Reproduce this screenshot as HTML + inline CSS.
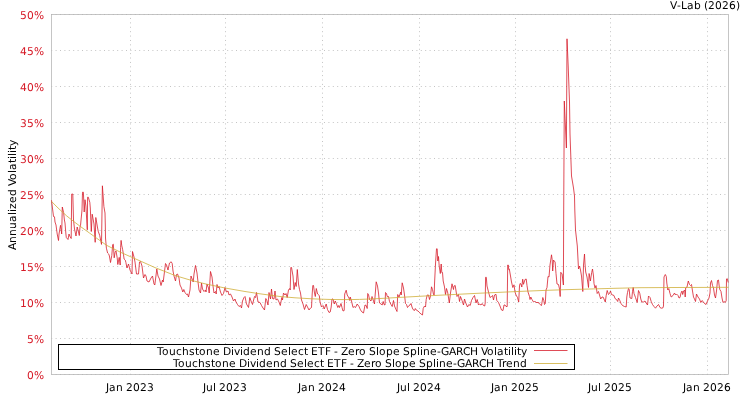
<!DOCTYPE html>
<html lang="en"><head><meta charset="utf-8"><title>V-Lab Volatility</title>
<style>
html,body{margin:0;padding:0;background:#fff;}
body{width:750px;height:400px;overflow:hidden;}
svg{display:block;will-change:transform;}
text{font-family:"DejaVu Sans","Liberation Sans",sans-serif;font-size:10.667px;fill:#000;font-kerning:none;font-feature-settings:'kern' 0,'liga' 0;text-rendering:geometricPrecision;}
.yt{fill:#d61926;}
.grid{stroke:#c4c4c4;stroke-width:1;stroke-dasharray:1 3.4;fill:none;}
</style></head><body>
<svg width="750" height="400" viewBox="0 0 750 400">
<rect x="0" y="0" width="750" height="400" fill="#fff"/>

<g class="grid">
<path d="M51.5 14.5H728.5" stroke-dashoffset="0.3"/>
<path d="M51.5 50.5H728.5" stroke-dashoffset="0.3"/>
<path d="M51.5 86.5H728.5" stroke-dashoffset="0.3"/>
<path d="M51.5 122.5H728.5" stroke-dashoffset="0.3"/>
<path d="M51.5 158.5H728.5" stroke-dashoffset="0.3"/>
<path d="M51.5 194.5H728.5" stroke-dashoffset="0.3"/>
<path d="M51.5 230.5H728.5" stroke-dashoffset="0.3"/>
<path d="M51.5 266.5H728.5" stroke-dashoffset="0.3"/>
<path d="M51.5 302.5H728.5" stroke-dashoffset="0.3"/>
<path d="M51.5 338.5H728.5" stroke-dashoffset="0.3"/>
<path d="M51.5 374.5H728.5" stroke-dashoffset="0.3"/>
<path d="M130.5 374.5V14.5" stroke-dasharray="1 3.3925" stroke-dashoffset="0.29"/>
<path d="M225.5 374.5V14.5" stroke-dasharray="1 3.3925" stroke-dashoffset="0.29"/>
<path d="M322.5 374.5V14.5" stroke-dasharray="1 3.3925" stroke-dashoffset="0.29"/>
<path d="M419.5 374.5V14.5" stroke-dasharray="1 3.3925" stroke-dashoffset="0.29"/>
<path d="M515.5 374.5V14.5" stroke-dasharray="1 3.3925" stroke-dashoffset="0.29"/>
<path d="M610.5 374.5V14.5" stroke-dasharray="1 3.3925" stroke-dashoffset="0.29"/>
<path d="M707.5 374.5V14.5" stroke-dasharray="1 3.3925" stroke-dashoffset="0.29"/>
</g>
<rect x="51.5" y="14.5" width="677" height="360" fill="none" stroke="#b3b3b3" stroke-width="0.76"/>
<polyline fill="none" stroke="#d61926" stroke-width="0.78" stroke-linejoin="round" points="51.5,200.3 52.7,210 53.5,216.5 54.5,216.8 55,222 56,225 57.2,234 58.5,240.5 59,234 60.5,225.3 61.3,231 61.7,234 62.3,207 63.6,212.5 64.4,220 65,223 65.9,234 66.3,237.5 68,239.5 69,234 70,236.5 71.2,238.5 71.7,194 72.8,194 73.5,220 74.5,229 76,236 77.2,227 78.5,232 79.3,235.5 80,227 80.5,225.6 82,210 82.5,192.2 83.4,192.2 84.2,212 85,199.7 85.9,206 87.3,229.8 87.6,197.2 88.3,197.2 89.8,202.3 90.3,208 91.3,231.5 92.2,214.2 94,224 95.2,242.3 95.8,217.5 97.6,228 98.2,231.2 99.7,235.4 101.5,244.4 102.4,185.8 103.9,206.5 105,213 105.3,225 105.5,238 106.4,248.2 107.6,253 108.8,254.2 109.4,256 110.5,262.5 111.8,255.4 112.7,244.6 113.3,244.2 114.2,257.8 115.1,252.4 116,250.9 117.2,257.8 117.8,264.5 119.2,257.4 120.2,265 120.6,247.6 121.1,240.4 121.7,245.2 122.6,249.4 123.5,254.8 124.1,259 125.3,260.2 125.9,262.5 127,268 128.5,264 130,270 132,274 132.5,251.5 134,257 135,262 136.5,274 138.5,274 139.5,262 140.5,261.5 142,266 143.5,278 145,274.5 146,276 147,281 149,282 151,278 152.5,276 154,284 154.8,285 156.8,269 158,276 159.5,279 161,285.5 162.5,280 163.2,282 165.5,263.5 166.5,265 168,270 169.5,263 171.2,261.8 172.2,263.5 173,271 174,276 175.5,281 176.5,274.5 177.5,274 179,278 180,285 181.5,288 182.8,292 183.8,289.5 185,292.5 186.5,294.5 187.5,294 188.5,297 190,290 191,276 192.5,280 193.2,282 194,274 195.5,265.5 197,273 198,282 199,290 200.5,293 201.5,283 202.5,289 204,291.5 205.5,290 206,292 207,284 208.5,288 209.2,293 210.5,271.5 212,277 213,286 214,293 215.5,291.5 216.2,294 217,284.5 218,288 219,286.5 220.5,292 222,295.5 223.5,293.5 225,287.5 226.5,292 228,291 229,295 230.5,294 232,297 233.5,301 235,299 236,302 237.5,304.5 239,306.5 240.5,305.5 241.5,308 242.5,301 244,297.5 245,296.5 246.5,304 248.5,307.5 249.8,297.5 251,301 252.5,304.5 254.5,296.5 255.5,297.5 256.5,292.5 258,302 260,302.5 261.5,305.5 263,308 264.5,310 265.8,298.5 266.8,300.5 268,305 269,292.5 270.5,299 271.5,289 272.5,298.5 274,299 275,291 276,300 277.5,299 279,302 280.3,305.5 281.8,297.5 282.5,300 283.5,293 285,295 286,293.5 287.2,297.5 288.5,290 289.7,288.5 290.2,290 290.8,267.5 291.5,267.5 293,276 294,289.5 295.2,282.5 296.2,286.5 297.3,269.5 298.5,284 299.5,289.5 300.5,293 301.5,300 303,304 304.5,309.5 306.2,304.5 307.5,307 309,310 310.5,308 311.5,307.5 312.2,294 312.8,285.5 313.5,285.5 314.5,293 315.3,296.5 316.3,288.5 317.6,294 319.3,295.5 320,302 321.5,307 323,305.5 324.2,309 326.2,304 327.5,309.5 329,312.5 330.2,312 331.2,307 332,299 333,299 334.3,304 335.3,301 336.5,304 337.8,307.5 338.7,305.5 339.5,307.5 341,303.5 342,307.5 343,311 344.2,310.5 344.7,294 346.2,290.2 347.2,295 349,298 349.8,300.5 350.2,297 351.5,301 353,307.5 354.2,306.5 355.5,307.5 357.2,304 359,306.5 360.5,310 362,312 363.5,313 365,305 366.2,305.5 367.2,308.5 367.7,293.5 368.5,294.5 369.5,299.5 371,301 372,296.5 373.2,300 374.5,304 375,297 376.2,281.8 377.5,286 378.5,293 379.5,303 381,304 382.2,305 383.2,301.5 384,304.5 385,305 385.5,292.5 386.5,293.5 387.2,296.5 388.5,296.5 389.5,301.5 391,304.5 392.2,306.5 393.5,300.5 394.5,306 396,309.5 397,311.5 397.7,294.5 399,297 400.8,292 401.2,295 402.2,282.8 403.5,288 404.5,295 405.5,303.5 406.5,304.5 407.5,307.5 409,305.5 410,305 411,303.5 412,307 413,309.5 414.5,310.5 415.3,308.5 416.2,310 418,311 419.5,312.5 421,314 422.5,315 423.2,308.5 424.5,306 425.5,307 426.2,299.5 427.2,295 428.5,295 429.5,299.5 430.5,296 431.5,286.8 432.5,289.5 433.5,294.5 434.2,295 434.5,284 435.5,264 436.5,248.8 437.2,248.8 437.8,261 438.5,256.5 439.2,266 440.3,273.5 441.2,264 441.8,272.5 442.5,272.5 443.2,281 444.5,287 445.5,294.5 446.5,288.5 447.8,293 449.3,303 450.5,293 452,283.8 453.5,289.5 454,286 455.2,285.5 456.5,294 457,296.5 458.5,294.5 459.5,301.5 460.5,296.5 462,300.5 463.5,305 464.5,299 465.8,303 467.5,307 468.8,304.5 470.2,305.5 471.5,300.5 473,297.5 474.5,295.5 476,303 477.2,299.5 478.5,305 479.5,304 481,305 482.2,303.5 483.5,305.5 484.7,306 485.2,303 485.6,277.3 486.3,277.3 487,286 488.5,292 490,297.5 491.5,296.5 492.5,295.5 493.5,300 494.5,295 496,294.3 496.8,300.5 498.5,302.5 500,306 501.5,310 503,310.5 504,305 505,305 506,306.5 507.2,306.5 507.7,265 508.3,265 508.7,269.5 509.3,269 510.5,276 511.5,282 512.8,287.5 514,284.8 515,292 516,295 517.5,297.5 518.7,302 519.5,286 520,283.5 521,284 521.8,287 522.7,279.2 523.5,284.3 525,279.5 526.2,279 527,285.5 528,292 529.5,296.5 530,299.5 530.8,297 532,299.5 533.5,302 534.5,301.5 536,302 537,303 538,302 539.5,304 541.5,305.5 542.8,297.5 543.8,300.5 544.5,304.5 545.3,303.5 546,290 547,287.5 548,276.5 549,277 550,265 551.5,254.8 552.2,259.8 552.7,271 553.5,260 555.1,262 556,273.5 557,284 558.5,284.5 559.5,289 560.2,296.5 560.8,272.3 562.1,274 563.4,285 563.7,210 564.3,101 566.4,148 567,38.8 568.2,66 569.5,102 570,134 571.5,176 573.5,188 574.5,196 574.8,210 575.5,230 577.3,246 578.5,269 579.5,266 580.5,270 581.5,276 582.8,291.5 583.5,265 584.5,254 585,264 585.7,272 587,277 588.5,287.5 589.1,273.5 590.4,281 591.7,272.5 592.5,269 593.5,276 594,283.5 595,288 596,285.5 597.2,293.5 598.5,291.5 599.5,295 600.7,299 602,297 603,297 604,299 605.3,302 606.2,295.5 607.2,290.5 608.5,294.5 609.5,293.5 610.5,291 611.5,294.5 614,295.5 615,298.5 616.5,299.5 617.7,301.5 618.5,298 619.8,300.5 621,303.5 622.5,305.5 624.5,306.5 626.2,307 626.8,297 627.5,292.5 628.5,288.5 629.2,289.5 630,298 631.8,298.5 632.5,291.5 633.2,287.5 634,293.5 635.5,297.5 637.2,302.5 638.5,290.5 639.8,293.5 640.8,299 641.8,302 643.5,302 645,301 646.2,303 647.5,305 648.5,296 650,297.5 651.2,301.5 652.5,304.5 654,306.5 655.5,308.2 657,306 658.5,304.5 660,307.5 661.2,308.2 662.8,308 663.5,306 664,277 665.3,274.5 666.3,276.5 666.8,283 667.8,290 668.8,288.5 670,293.5 671.2,297 673,295.5 674.5,293 675.5,295 676.5,294 678,295.5 679,298 680,297.5 681,293 682,291 682.7,294.5 683.7,291 684.7,290 685.2,297 685.7,288 687,287 688.3,281 689.5,284.5 690.5,285.5 691.5,284.5 692.5,291 693.5,297 694.5,299 695.5,301.5 696.5,294 698,297 699.5,299 700.8,302.5 702.2,300.5 704,303 706,304.5 707.5,301 709,298 710,293 710.5,283 711.5,280.5 712.5,285.5 713.5,288 714.5,295 715.5,298 716.5,291 717.5,280.5 718.5,280 719.2,286 719.8,289.5 721,291.5 722,298 723,302.5 724.2,301.5 725.3,302.5 726.2,300.5 726.5,279 727.2,278.5 728.2,282.5"/>
<polyline fill="none" stroke="#ceac33" stroke-width="0.78" stroke-linejoin="round" points="51.5,201.4 52.1,202 56,206 60.2,210 66.8,216 74,221.7 80,226.2 89.6,233.1 95,237 100,240.6 106.4,245.2 112,248 120.8,252.4 131.6,257.2 141.2,261.4 155,267.6 170,273.5 175,275.5 190,280 205,283.8 225,288 245,291.5 260,293.8 280,296.5 295,297.8 310,298.7 318,299.05 328,299.4 336,299.55 344,299.6 352,299.55 359.5,299.4 365,299.2 372,298.9 380,298.5 400,297.4 425,296 440,295.2 460,294.2 480,293.2 500,292.3 520,291.4 545,290.4 565,289.7 590,289 615,288.3 640,287.7 675,287.5 710,287.4 728.5,287.3"/>
<text class="yt" x="20 27 34" y="18.8">50%</text>
<text class="yt" x="20 27 34" y="54.8">45%</text>
<text class="yt" x="20 27 34" y="90.8">40%</text>
<text class="yt" x="20 27 34" y="126.8">35%</text>
<text class="yt" x="20 27 34" y="162.8">30%</text>
<text class="yt" x="20 27 34" y="198.8">25%</text>
<text class="yt" x="20 27 34" y="234.8">20%</text>
<text class="yt" x="20 27 34" y="270.8">15%</text>
<text class="yt" x="20 27 34" y="306.8">10%</text>
<text class="yt" x="27 34" y="342.8">5%</text>
<text class="yt" x="27 34" y="378.8">0%</text>
<text x="106 109 116 123 126 133 140 147" y="390.8">Jan 2023</text>
<text x="203 206 213 216 219 226 233 240" y="390.8">Jul 2023</text>
<text x="298 301 308 315 318 325 332 339" y="390.8">Jan 2024</text>
<text x="397 400 407 410 413 420 427 434" y="390.8">Jul 2024</text>
<text x="491 494 501 508 511 518 525 532" y="390.8">Jan 2025</text>
<text x="588 591 598 601 604 611 618 625" y="390.8">Jul 2025</text>
<text x="683 686 693 700 703 710 717 724" y="390.8">Jan 2026</text>
<text x="670 677 681 687 694 701 704 708 715 722 729 736" y="8.8">V-Lab (2026)</text>
<g transform="translate(16,250) rotate(-90)"><text x="0 7 14 21 28 35 38 41 47 54 61 64 70 77 80 87 91 94 97 100 104" y="0">Annualized Volatility</text></g>
<rect x="58.5" y="344.5" width="516" height="25" fill="#fff" stroke="#000" stroke-width="1"/>
<text x="157 162 169 176 182 189 195 199 206 213 220 223 231 234 240 243 250 257 264 271 274 281 288 291 298 304 308 311 318 325 331 334 338 341 348 355 359 366 369 376 379 386 393 400 403 410 417 420 423 430 437 441 449 456 463 470 478 481 487 494 497 504 508 511 514 517 521" y="354.85">Touchstone Dividend Select ETF - Zero Slope Spline-GARCH Volatility</text>
<text x="173 178 185 192 198 205 211 215 222 229 236 239 247 250 256 259 266 273 280 287 290 297 304 307 314 320 324 327 334 341 347 350 354 357 364 371 375 382 385 392 395 402 409 416 419 426 433 436 439 446 453 457 465 472 479 486 494 497 502 506 513 520" y="366.85">Touchstone Dividend Select ETF - Zero Slope Spline-GARCH Trend</text>
<path d="M534 350.5H567.5" stroke="#d61926" stroke-width="0.78" fill="none"/>
<path d="M534 363.5H567.5" stroke="#ceac33" stroke-width="0.78" fill="none"/>
</svg>
</body></html>
